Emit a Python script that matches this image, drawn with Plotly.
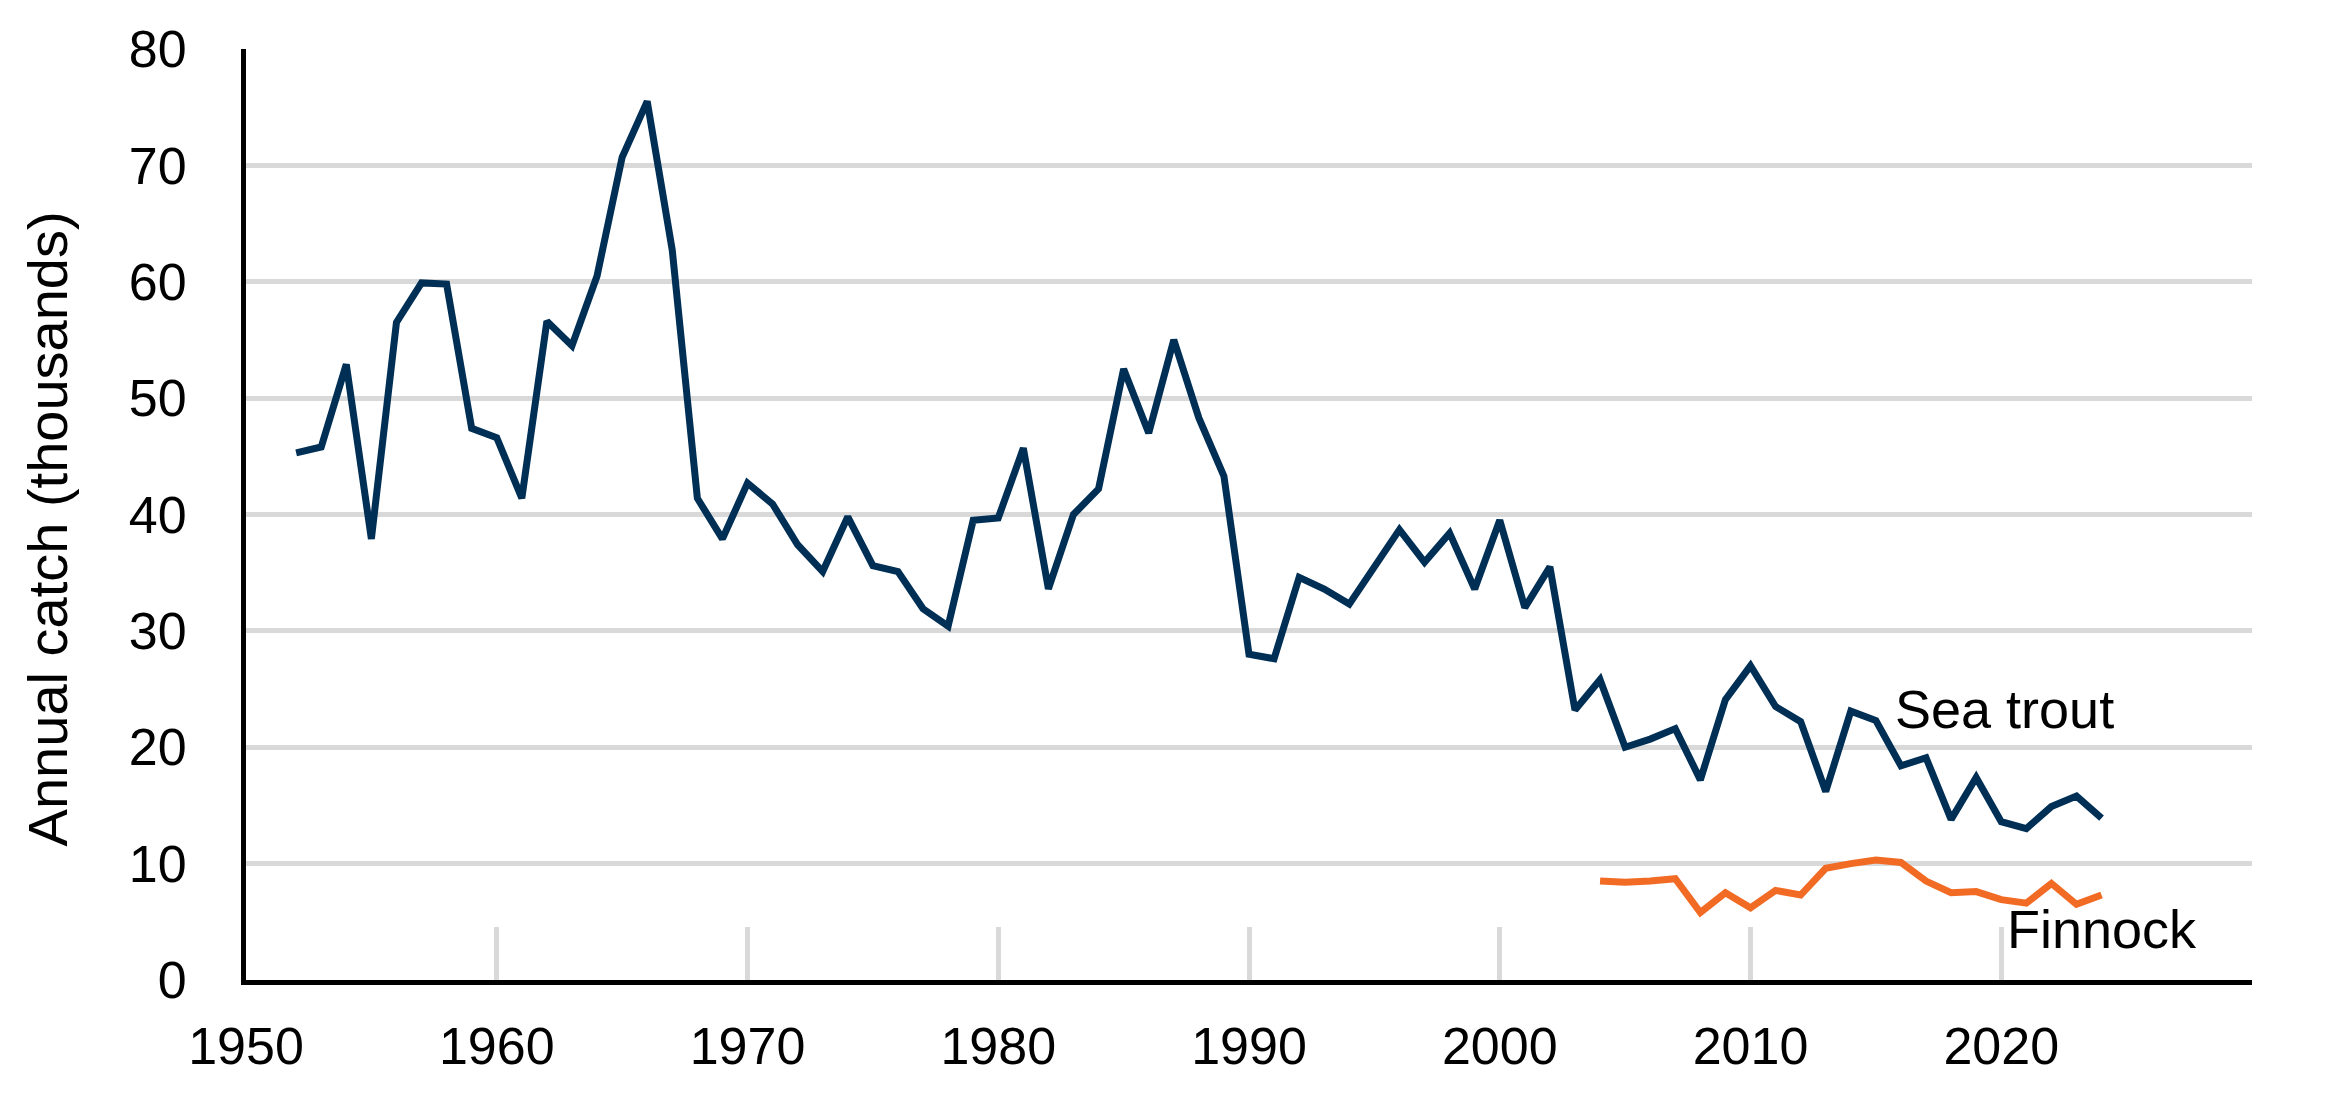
import plotly.graph_objects as go

# annual catch, thousands
sea_trout_years = list(range(1952, 2025))
sea_trout = [
    45.3, 45.8, 52.9, 37.9, 56.5, 59.9, 59.8, 47.4, 46.6, 41.4,   # 1952-1961
    56.6, 54.5, 60.5, 70.7, 75.5, 62.7, 41.4, 37.9, 42.7, 40.9,   # 1962-1971
    37.4, 35.1, 39.8, 35.6, 35.1, 31.9, 30.4, 39.5, 39.7, 45.7,   # 1972-1981
    33.6, 40.0, 42.2, 52.5, 47.0, 55.0, 48.3, 43.3, 28.0, 27.6,   # 1982-1991
    34.6, 33.6, 32.3, 35.4, 38.7, 35.9, 38.4, 33.6, 39.5, 32.0,   # 1992-2001
    35.5, 23.2, 25.8, 20.0, 20.7, 21.6, 17.2, 24.1, 27.0, 23.5,   # 2002-2011
    22.2, 16.2, 23.1, 22.3, 18.4, 19.1, 13.8, 17.4, 13.6, 13.0,   # 2012-2021
    14.9, 15.8, 13.9,                                             # 2022-2024
]

finnock_years = list(range(2004, 2025))
finnock = [
    8.5, 8.4, 8.5, 8.7, 5.8, 7.5, 6.2, 7.7, 7.3, 9.6,
    10.0, 10.3, 10.1, 8.5, 7.5, 7.6, 6.9, 6.6, 8.3, 6.5, 7.3,
]

x_ticks = list(range(1950, 2031, 10))
x_labels = [str(v) for v in x_ticks[:-1]] + [""]
y_ticks = list(range(0, 81, 10))

navy = "#002F56"
orange = "#F26B24"
grey = "#D9D9D9"
font = "Liberation Sans, Arial, sans-serif"

fig = go.Figure()
fig.add_trace(go.Scatter(x=sea_trout_years, y=sea_trout, mode="lines",
                         line=dict(color=navy, width=7), name="Sea trout"))
fig.add_trace(go.Scatter(x=finnock_years, y=finnock, mode="lines",
                         line=dict(color=orange, width=7), name="Finnock"))

# series labels next to the line ends
fig.add_annotation(x=2015.7, y=23.3, text="Sea trout", showarrow=False,
                   xanchor="left", yanchor="middle", font=dict(size=54, color="black"))
fig.add_annotation(x=2020.15, y=4.4, text="Finnock", showarrow=False,
                   xanchor="left", yanchor="middle", font=dict(size=54, color="black"))

# y axis title, placed like the original (slightly below plot centre)
fig.add_annotation(xref="paper", yref="paper", x=0, y=0.484, xshift=-199,
                   text="Annual catch (thousands)", textangle=-90, showarrow=False,
                   xanchor="center", yanchor="middle", font=dict(size=56, color="black"))

fig.update_layout(
    width=2337, height=1096,
    margin=dict(l=238, r=93, t=36, b=124),
    plot_bgcolor="white", paper_bgcolor="white",
    showlegend=False,
    font=dict(family=font, size=52, color="black"),
)
fig.update_xaxes(
    range=[1950, 2030], tickmode="array", tickvals=x_ticks, ticktext=x_labels,
    showgrid=False, zeroline=False,
    showline=True, linecolor="black", linewidth=5,
    ticks="inside", ticklen=53, tickwidth=5, tickcolor=grey,
    ticklabelstandoff=17,
)
fig.update_yaxes(
    range=[0, 80], tickmode="array", tickvals=y_ticks,
    showgrid=True, gridcolor=grey, gridwidth=5, zeroline=False,
    showline=True, linecolor="black", linewidth=5,
    ticks="", ticklabelstandoff=44,
)

fig.write_html("out.html")
